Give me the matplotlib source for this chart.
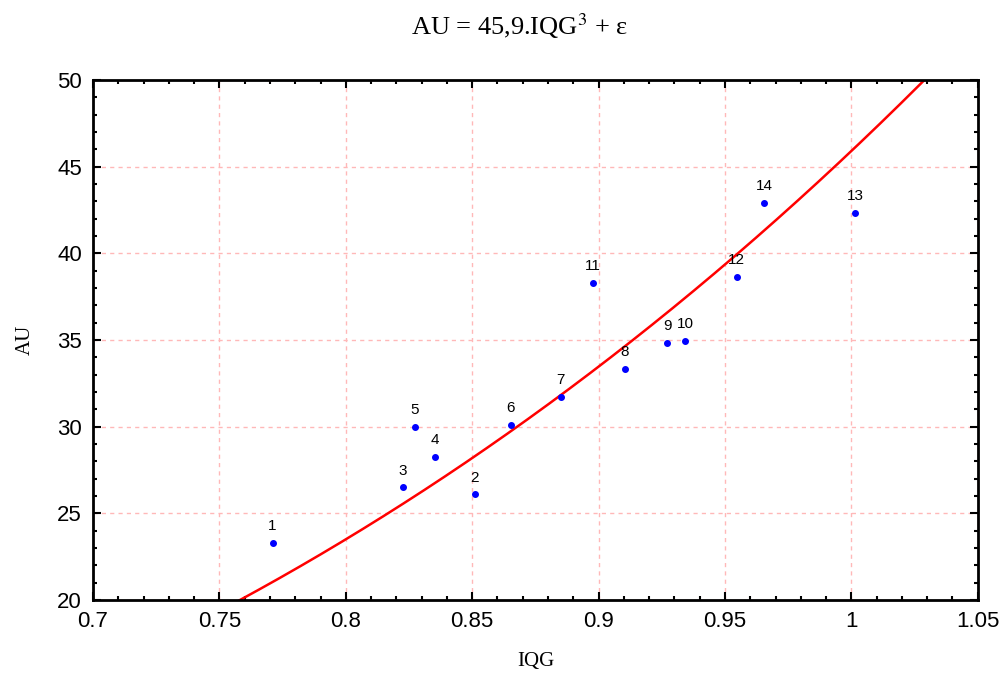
import numpy as np
import matplotlib
matplotlib.use("Agg")
import matplotlib.pyplot as plt
from matplotlib.ticker import MultipleLocator

# observed points
ids = [1, 2, 3, 4, 5, 6, 7, 8, 9, 10, 11, 12, 13, 14]
iqg = [0.771, 0.851, 0.8226, 0.8353, 0.8274, 0.8653, 0.8851, 0.9104,
       0.9271, 0.9342, 0.8978, 0.9547, 1.0014, 0.9654]
au = [23.3, 26.1, 26.5, 28.25, 30.0, 30.1, 31.7, 33.35,
      34.85, 34.95, 38.3, 38.65, 42.35, 42.9]

# fitted model AU = coef * IQG^3
coef = 45.9

fig = plt.figure(figsize=(10.08, 6.83), dpi=100)
ax = fig.add_axes([0.0923, 0.1215, 0.8777, 0.7615])

xs = np.linspace(0.7, 1.05, 300)
ax.plot(xs, coef * xs ** 3, color="red", lw=1.8, zorder=2)
ax.plot(iqg, au, "o", color="blue", ms=4, zorder=3)
for i, x, y in zip(ids, iqg, au):
    ax.annotate(str(i), (x, y), xytext=(0, 7), textcoords="offset points",
                ha="center", va="bottom", fontsize=11,
                family="Liberation Sans")

ax.set_xlim(0.7, 1.05)
ax.set_ylim(20, 50)
ax.xaxis.set_minor_locator(MultipleLocator(0.01))
ax.yaxis.set_major_locator(MultipleLocator(5))
ax.yaxis.set_minor_locator(MultipleLocator(1))
ax.set_xticks(np.arange(0.7, 1.051, 0.05))
ax.set_xticklabels(["0.7", "0.75", "0.8", "0.85", "0.9", "0.95", "1", "1.05"])
ax.grid(True, which="major", color="#ffb8b8", ls=(0, (3, 3)), lw=1.0, zorder=0)
ax.tick_params(which="both", direction="in", top=True, right=True, width=1.5)
ax.tick_params(which="major", length=6, labelsize=16, pad=8)
ax.tick_params(which="minor", length=3)
for lab in ax.get_xticklabels() + ax.get_yticklabels():
    lab.set_family("Liberation Sans")
for s in ax.spines.values():
    s.set_linewidth(2)

ax.set_xlabel("IQG", family="Liberation Serif", fontsize=15, labelpad=14)
ax.set_ylabel("AU", family="Liberation Serif", fontsize=15, labelpad=16)
fig.text(0.515, 0.962, "AU = 45,9.IQG$^3$ + ε", ha="center", va="center",
         family="Liberation Serif", fontsize=19, math_fontfamily="stix")

fig.savefig("out.png", dpi=100)
